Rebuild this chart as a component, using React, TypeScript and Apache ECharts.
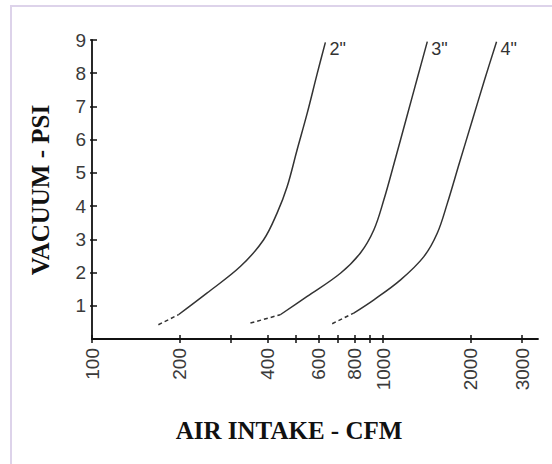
import React, { useEffect, useRef } from "react";
import * as echarts from "echarts";

// Tick values on the logarithmic CFM axis
const cfmTicks = [100, 200, 300, 400, 500, 600, 700, 800, 900, 1000, 2000, 3000];
const cfmTickLabels = [100, 200, 400, 600, 800, 1000, 2000, 3000];
const psiTicks = [1, 2, 3, 4, 5, 6, 7, 8, 9];

// 2" pipe
const pipe2LeadCfm = [169, 198];
const pipe2LeadPsi = [0.43, 0.73];
const pipe2Cfm = [198, 248, 323, 388, 432, 468, 506, 548, 593, 633];
const pipe2Psi = [0.73, 1.38, 2.18, 2.98, 3.79, 4.59, 5.69, 6.79, 7.98, 8.93];

// 3" pipe
const pipe3LeadCfm = [350, 443];
const pipe3LeadPsi = [0.48, 0.73];
const pipe3Cfm = [443, 548, 713, 835, 929, 1005, 1090, 1205, 1314, 1417];
const pipe3Psi = [0.73, 1.28, 1.98, 2.59, 3.29, 4.19, 5.29, 6.69, 7.9, 8.95];

// 4" pipe
const pipe4LeadCfm = [668, 792];
const pipe4LeadPsi = [0.46, 0.78];
const pipe4Cfm = [792, 929, 1147, 1379, 1534, 1661, 1825, 2024, 2226, 2450];
const pipe4Psi = [0.78, 1.18, 1.78, 2.48, 3.19, 4.09, 5.29, 6.59, 7.79, 8.95];

const pipeNames = ['2"', '3"', '4"'];

const CFM_MIN = 100;
const CFM_MAX = 3400;
const PSI_MIN = 0;
const PSI_MAX = 9;

const zip = (xs: number[], ys: number[]) => xs.map((x, i) => [x, ys[i]]);

export default function App() {
  const ref = useRef<HTMLDivElement>(null);

  useEffect(() => {
    if (!ref.current) return;
    const chart = echarts.init(ref.current, null, { renderer: "svg" });
    const lineColor = "#333";
    const labelFont = "'Liberation Sans', Arial, sans-serif";
    const titleFont = "'Liberation Serif', 'Times New Roman', serif";
    const logMin = Math.log10(CFM_MIN);
    const logMax = Math.log10(CFM_MAX);

    const mainSeries = (name: string, xs: number[], ys: number[]) => ({
      name,
      type: "line",
      xAxisIndex: 0,
      yAxisIndex: 0,
      data: zip(xs, ys),
      smooth: 0.35,
      showSymbol: false,
      symbol: "none",
      lineStyle: { color: lineColor, width: 1.5 },
      endLabel: {
        show: true,
        formatter: "{a}",
        color: "#333",
        fontFamily: labelFont,
        fontSize: 18,
        distance: 4,
        offset: [0, 7],
      },
      silent: true,
    });
    const leadSeries = (name: string, xs: number[], ys: number[]) => ({
      name: name + " lead",
      type: "line",
      xAxisIndex: 0,
      yAxisIndex: 0,
      data: zip(xs, ys),
      showSymbol: false,
      symbol: "none",
      lineStyle: { color: lineColor, width: 1.5, type: [4, 3] },
      silent: true,
    });

    chart.setOption({
      animation: false,
      backgroundColor: "#ffffff",
      grid: { left: 92, right: 14, top: 40, bottom: 125 },
      xAxis: [
        {
          type: "log",
          position: "bottom",
          min: CFM_MIN,
          max: CFM_MAX,
          axisLine: { show: true, onZero: false, lineStyle: { color: "#111", width: 1.8 } },
          axisTick: { show: false },
          axisLabel: { show: false },
          splitLine: { show: false },
          minorTick: { show: false },
        },
        {
          type: "value",
          position: "bottom",
          min: logMin,
          max: logMax,
          axisLine: { show: false, onZero: false },
          axisTick: {
            show: true,
            inside: false,
            length: 4,
            customValues: cfmTicks.map((v) => Math.log10(v)),
            lineStyle: { color: "#111", width: 1.5 },
          },
          axisLabel: {
            show: true,
            customValues: cfmTickLabels.map((v) => Math.log10(v)),
            formatter: (v: number) => String(Math.round(Math.pow(10, v))),
            rotate: 90,
            margin: 9,
            color: "#3a3a3a",
            fontFamily: labelFont,
            fontSize: 19,
          },
          splitLine: { show: false },
        },
        {
          type: "value",
          position: "bottom",
          min: logMin,
          max: logMax,
          axisLine: { show: false, onZero: false },
          axisTick: {
            show: true,
            inside: true,
            length: 4,
            customValues: cfmTicks.map((v) => Math.log10(v)),
            lineStyle: { color: "#111", width: 1.5 },
          },
          axisLabel: { show: false },
          splitLine: { show: false },
        },
      ],
      yAxis: [
        {
          type: "value",
          position: "left",
          min: PSI_MIN,
          max: PSI_MAX,
          interval: 1,
          axisLine: { show: true, onZero: false, lineStyle: { color: "#111", width: 1.8 } },
          axisTick: {
            show: true,
            inside: true,
            length: 5,
            customValues: psiTicks,
            lineStyle: { color: "#111", width: 1.5 },
          },
          axisLabel: {
            show: true,
            customValues: psiTicks,
            margin: 6,
            color: "#3a3a3a",
            fontFamily: labelFont,
            fontSize: 19,
          },
          splitLine: { show: false },
        },
        {
          type: "value",
          position: "left",
          min: PSI_MIN,
          max: PSI_MAX,
          interval: 1,
          axisLine: { show: false, onZero: false },
          axisTick: {
            show: true,
            inside: false,
            length: 2,
            customValues: psiTicks,
            lineStyle: { color: "#111", width: 1.5 },
          },
          axisLabel: { show: false },
          splitLine: { show: false },
        },
      ],
      graphic: [
        {
          type: "rect",
          silent: true,
          shape: { x: 11, y: 6, width: 600, height: 600 },
          style: { fill: "none", stroke: "#ddd3ea", lineWidth: 2 },
        },
        {
          type: "text",
          silent: true,
          x: 40,
          y: 190,
          rotation: Math.PI / 2,
          style: {
            text: "VACUUM - PSI",
            fontFamily: titleFont,
            fontWeight: "bold",
            fontSize: 25,
            fill: "#111",
            align: "center",
            verticalAlign: "middle",
          },
        },
        {
          type: "text",
          silent: true,
          x: 289,
          y: 430,
          style: {
            text: "AIR INTAKE - CFM",
            fontFamily: titleFont,
            fontWeight: "bold",
            fontSize: 25,
            fill: "#111",
            align: "center",
            verticalAlign: "middle",
          },
        },
      ],
      series: [
        leadSeries(pipeNames[0], pipe2LeadCfm, pipe2LeadPsi),
        mainSeries(pipeNames[0], pipe2Cfm, pipe2Psi),
        leadSeries(pipeNames[1], pipe3LeadCfm, pipe3LeadPsi),
        mainSeries(pipeNames[1], pipe3Cfm, pipe3Psi),
        leadSeries(pipeNames[2], pipe4LeadCfm, pipe4LeadPsi),
        mainSeries(pipeNames[2], pipe4Cfm, pipe4Psi),
      ],
    });

    return () => chart.dispose();
  }, []);

  return (
    <div
      ref={ref}
      style={{ position: "fixed", left: 0, top: 0, width: 552, height: 464, background: "#fff" }}
    />
  );
}
